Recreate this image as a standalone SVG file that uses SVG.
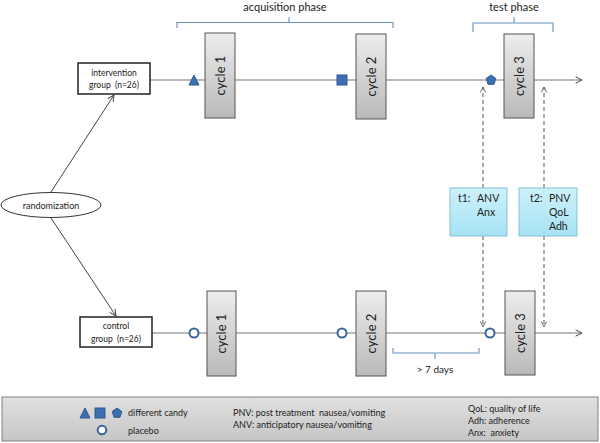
<svg xmlns="http://www.w3.org/2000/svg" width="600" height="443" viewBox="0 0 600 443">
<style>
text{font-family:Lato,"Open Sans","Liberation Sans",sans-serif;fill:#222}
.box{fill:#fff;stroke:#222;stroke-width:1.5}
.cyc{fill:url(#gcyc);stroke:#555;stroke-width:1}
.ct{font-size:13px;text-anchor:middle}
.tb{fill:url(#gt);stroke:#86c3d6;stroke-width:1}
.tt{font-size:10.5px}
.ln{stroke:#777;stroke-width:1.2;fill:none}
.ar{stroke:#444;stroke-width:1;fill:none}
.ds{stroke:#555;stroke-width:1;stroke-dasharray:4,3;fill:none}
.br{stroke:#6b8fc2;stroke-width:1.1;fill:none}
.sh{fill:#3c6eb0;stroke:#2e5a93;stroke-width:1}
.pl{fill:#fff;stroke:#3a659a;stroke-width:2}
.lg{font-size:9px}
.sm{font-size:8.5px;text-anchor:middle}
.ph{font-size:11px;text-anchor:middle}
</style>
<defs>
<linearGradient id="gcyc" x1="0" y1="0" x2="0" y2="1"><stop offset="0" stop-color="#ededed"/><stop offset="1" stop-color="#b9b9b9"/></linearGradient>
<linearGradient id="gt" x1="0" y1="0" x2="0" y2="1"><stop offset="0" stop-color="#cdf1fb"/><stop offset="1" stop-color="#a6e2f3"/></linearGradient>
<linearGradient id="glg" x1="0" y1="0" x2="0" y2="1"><stop offset="0" stop-color="#e0e0e0"/><stop offset="1" stop-color="#c6c6c6"/></linearGradient>
<marker id="av" viewBox="0 0 10 10" refX="9" refY="5" markerWidth="8" markerHeight="8" orient="auto" markerUnits="userSpaceOnUse"><path d="M1,1 L9,5 L1,9" fill="none" stroke="#444" stroke-width="1.2"/></marker>
<marker id="ad" viewBox="0 0 10 10" refX="9" refY="5" markerWidth="7" markerHeight="7" orient="auto" markerUnits="userSpaceOnUse"><path d="M1,1 L9,5 L1,9" fill="none" stroke="#555" stroke-width="1.2"/></marker>
</defs>

<g id="connectors">
<line class="ln" x1="150" y1="80" x2="582" y2="80" marker-end="url(#av)"/>
<line class="ln" x1="152" y1="333" x2="582" y2="333" marker-end="url(#av)"/>
<line class="ar" x1="51" y1="192" x2="114" y2="95" marker-end="url(#av)"/>
<line class="ar" x1="51" y1="218" x2="116" y2="316" marker-end="url(#av)"/>
<line class="ds" x1="483" y1="188" x2="483" y2="87" marker-end="url(#ad)"/>
<line class="ds" x1="544" y1="188" x2="544" y2="87" marker-end="url(#ad)"/>
<line class="ds" x1="483" y1="236" x2="483" y2="327" marker-end="url(#ad)"/>
<line class="ds" x1="544" y1="236" x2="544" y2="327" marker-end="url(#ad)"/>
</g>

<g id="acquisition-phase">
<path class="br" d="M177,28 V22.5 H393 V28 M289,22.5 V17"/>
<text class="ph" x="285" y="11">acquisition phase</text>
</g>
<g id="test-phase">
<path class="br" d="M473,32 V23 H553 V32 M514,23 V17"/>
<text class="ph" x="514" y="11">test phase</text>
</g>

<g id="intervention">
<rect class="box" x="78" y="63" width="72" height="31"/>
<text class="sm" x="114" y="76">intervention</text>
<text class="sm" x="114" y="88" xml:space="preserve">group  (n=26)</text>
</g>
<g id="control">
<rect class="box" x="80" y="317" width="72" height="30"/>
<text class="sm" x="116" y="329">control</text>
<text class="sm" x="116" y="342" xml:space="preserve">group  (n=26)</text>
</g>
<g id="randomization">
<ellipse cx="51" cy="205" rx="50" ry="12.5" fill="#fff" stroke="#333" stroke-width="1"/>
<text x="51" y="208.5" font-size="9" text-anchor="middle">randomization</text>
</g>

<g id="cycle1-top"><rect class="cyc" x="205" y="33" width="30" height="85"/><text class="ct" transform="translate(225,75.5) rotate(-90)">cycle 1</text></g>
<g id="cycle2-top"><rect class="cyc" x="356" y="34" width="30" height="85"/><text class="ct" transform="translate(376,76.5) rotate(-90)">cycle 2</text></g>
<g id="cycle3-top"><rect class="cyc" x="504" y="34" width="30" height="84"/><text class="ct" transform="translate(524,76) rotate(-90)">cycle 3</text></g>
<g id="cycle1-bottom"><rect class="cyc" x="207" y="291" width="29" height="85"/><text class="ct" transform="translate(226,333.5) rotate(-90)">cycle 1</text></g>
<g id="cycle2-bottom"><rect class="cyc" x="356" y="291" width="30" height="85"/><text class="ct" transform="translate(376,333.5) rotate(-90)">cycle 2</text></g>
<g id="cycle3-bottom"><rect class="cyc" x="505" y="291" width="30" height="84"/><text class="ct" transform="translate(525,333) rotate(-90)">cycle 3</text></g>

<g id="markers-top">
<polygon class="sh" points="194,75 199,85 189,85"/>
<rect class="sh" x="337" y="75" width="10" height="10"/>
<polygon class="sh" points="491,75 495.8,78.5 494,84.3 488,84.3 486.2,78.5"/>
</g>
<g id="markers-bottom">
<circle class="pl" cx="194" cy="333" r="4.5"/>
<circle class="pl" cx="342" cy="333" r="4.5"/>
<circle class="pl" cx="490" cy="333" r="4.5"/>
</g>

<g id="interval">
<path class="br" d="M393,348 V353 H479 V348 M435,353 V359"/>
<text x="435" y="373" font-size="10" text-anchor="middle">&gt; 7 days</text>
</g>

<g id="t1">
<rect class="tb" x="450" y="188" width="57" height="48"/>
<text class="tt" x="458" y="202">t1:</text>
<text class="tt" x="477" y="202">ANV</text>
<text class="tt" x="477" y="216">Anx</text>
</g>
<g id="t2">
<rect class="tb" x="519" y="188" width="58" height="48"/>
<text class="tt" x="530" y="202">t2:</text>
<text class="tt" x="549" y="202">PNV</text>
<text class="tt" x="549" y="216">QoL</text>
<text class="tt" x="549" y="230">Adh</text>
</g>

<g id="legend">
<rect x="2" y="397" width="596" height="44" fill="url(#glg)" stroke="#808080" stroke-width="1"/>
<polygon class="sh" points="85,408 90,418 80,418"/>
<rect class="sh" x="95" y="408" width="10" height="10"/>
<polygon class="sh" points="117,408 121.8,411.5 120,417.3 114,417.3 112.2,411.5"/>
<text class="lg" x="128" y="416">different candy</text>
<circle class="pl" cx="102" cy="430" r="4.3"/>
<text class="lg" x="128" y="434">placebo</text>
<text class="lg" x="233" y="416" xml:space="preserve">PNV: post treatment  nausea/vomiting</text>
<text class="lg" x="233" y="428">ANV: anticipatory nausea/vomiting</text>
<text class="lg" x="468" y="412">QoL: quality of life</text>
<text class="lg" x="468" y="424">Adh: adherence</text>
<text class="lg" x="468" y="436" xml:space="preserve">Anx:  anxiety</text>
</g>
</svg>
